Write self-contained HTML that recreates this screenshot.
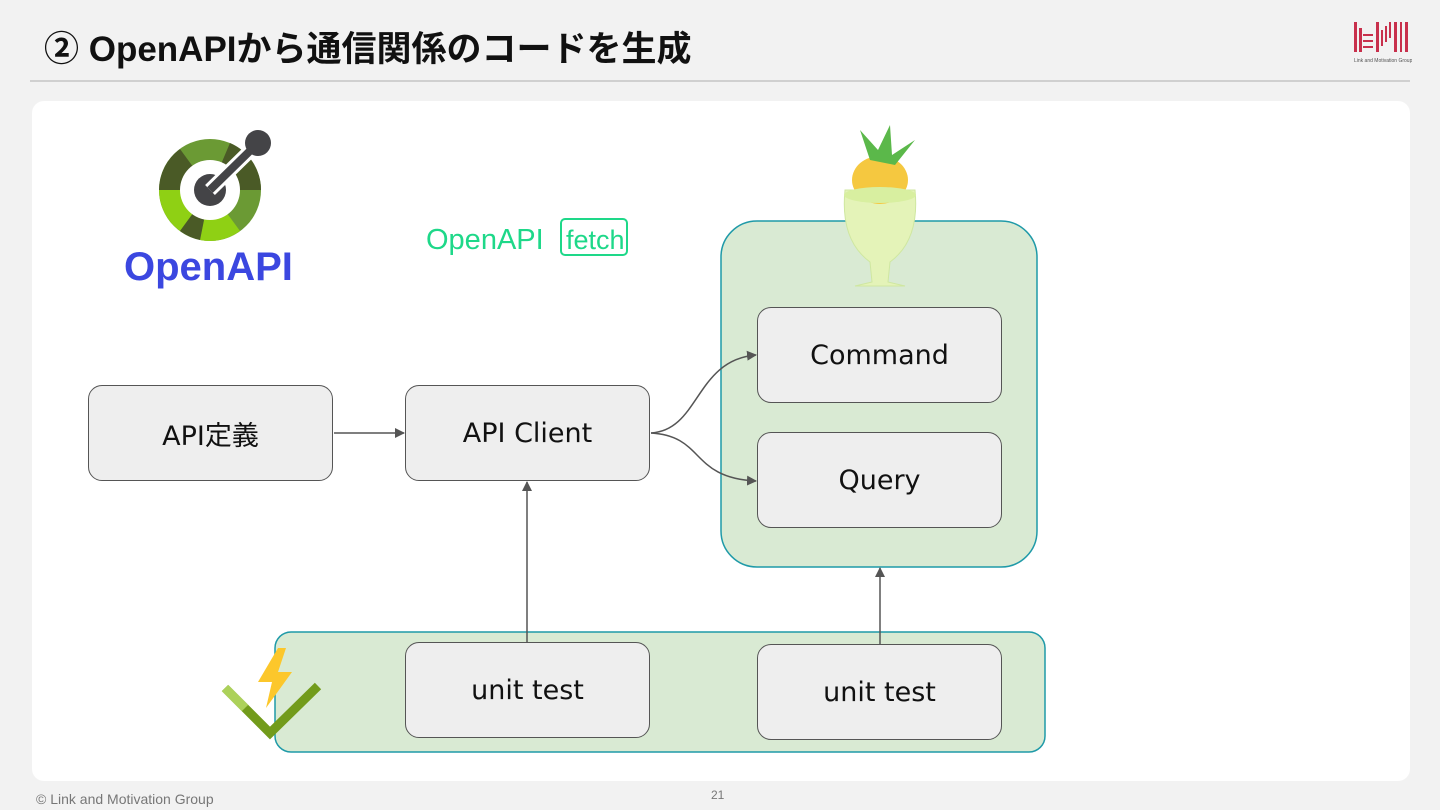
<!DOCTYPE html>
<html><head><meta charset="utf-8"><style>
body{margin:0;width:1440px;height:810px;background:#f2f2f2;position:relative;overflow:hidden;font-family:"Liberation Sans","Noto Sans CJK JP",sans-serif}
.a{position:absolute}
.box{position:absolute;background:#eeeeee;border:1.5px solid #555;border-radius:14px;box-sizing:border-box;display:flex;align-items:center;justify-content:center;font-size:27px;color:#111;font-family:"DejaVu Sans","Noto Sans CJK JP",sans-serif;font-weight:normal}
</style></head><body>
<div class="a" style="left:44px;top:21px;font-size:35px;font-weight:bold;color:#111">② OpenAPIから通信関係のコードを生成</div>
<div class="a" style="left:30px;top:80px;width:1380px;height:2px;background:#d0d0d0"></div>
<svg class="a" style="left:1350px;top:18px" width="62" height="48"><g fill="#c8304c">
<rect x="4" y="4" width="3" height="30"/><rect x="9" y="10" width="3" height="24"/><rect x="13" y="16" width="10" height="2"/><rect x="13" y="22" width="10" height="2"/><rect x="13" y="28" width="10" height="2"/><rect x="26" y="4" width="3" height="30"/><rect x="31" y="12" width="2" height="16"/><rect x="35" y="8" width="2" height="16"/><rect x="39" y="4" width="2" height="16"/><rect x="44" y="4" width="3" height="30"/><rect x="50" y="4" width="2" height="30"/><rect x="55" y="4" width="3" height="30"/></g>
<text x="4" y="44" font-size="5" fill="#555">Link and Motivation Group</text></svg>
<div class="a" style="left:32px;top:101px;width:1378px;height:680px;background:#fff;border-radius:12px"></div>

<svg class="a" style="left:0;top:0" width="1440" height="810">
<g transform="translate(210,190)">
<circle r="51" fill="#6b9a34"/>
<path d="M0 0 L-51 0 A51 51 0 0 1 -30 -41Z" fill="#4a5a26"/>
<path d="M0 0 L-51 0 A51 51 0 0 0 -30 41Z" fill="#8fd014"/>
<path d="M0 0 L-10 50 A51 51 0 0 0 30 41Z" fill="#8fd014"/>
<path d="M0 0 L51 0 A51 51 0 0 0 20 -47Z" fill="#4a5a26"/>
<path d="M0 0 L-30 41 A51 51 0 0 0 -10 50Z" fill="#4a5a26"/>
<circle r="30" fill="#fff"/>
<circle r="16" fill="#444447"/>
<line x1="0" y1="0" x2="48" y2="-47" stroke="#fff" stroke-width="14"/>
<line x1="0" y1="0" x2="48" y2="-47" stroke="#444447" stroke-width="8"/>
<circle cx="48" cy="-47" r="13" fill="#444447"/>
</g>
<text x="124" y="280" font-size="40" font-weight="bold" fill="#3b47e0" font-family="Liberation Sans">OpenAPI</text>
<text x="426" y="249" font-size="29" fill="#1ed889" font-family="Liberation Sans">OpenAPI</text>
<rect x="561" y="219" width="66" height="36" rx="4" fill="none" stroke="#1ed889" stroke-width="2"/>
<text x="566" y="249" font-size="27" fill="#1ed889" font-family="Liberation Sans">fetch</text>
<rect x="721" y="221" width="316" height="346" rx="36" fill="#d9ead3" stroke="#1f9aa8" stroke-width="1.5"/>
<rect x="275" y="632" width="770" height="120" rx="16" fill="#d9ead3" stroke="#1f9aa8" stroke-width="1.5"/>
<path d="M845 190 Q840 240 870 262 L872 282 L855 286 L905 286 L888 282 L890 262 Q920 240 915 190Z" fill="#e4f3b8" stroke="#cfe7a0"/>
<ellipse cx="880" cy="180" rx="28" ry="24" fill="#f5c840"/>
<path d="M870 160 L860 130 L878 150 L890 125 L892 155 L915 140 L895 165Z" fill="#5bb84a"/>
<ellipse cx="880" cy="195" rx="36" ry="8" fill="#d8efa0"/>
<path d="M225 688 L270 733 L318 686" fill="none" stroke="#729b1b" stroke-width="9"/>
<path d="M225 688 L245 708" stroke="#acd15a" stroke-width="9"/>
<path d="M278 648 L258 682 L272 682 L266 708 L292 672 L278 672 L286 648Z" fill="#fcc72b"/>
<defs><marker id="m" markerWidth="10" markerHeight="10" refX="9" refY="5" orient="auto" markerUnits="userSpaceOnUse"><path d="M0 0 L10 5 L0 10Z" fill="#555"/></marker></defs>
<g stroke="#555" stroke-width="1.5" fill="none" marker-end="url(#m)">
<line x1="334" y1="433" x2="404" y2="433"/>
<path d="M651 433 C700 430 695 360 756 355"/>
<path d="M651 433 C705 436 690 478 756 481"/>
<line x1="527" y1="642" x2="527" y2="482"/>
<line x1="880" y1="644" x2="880" y2="568"/>
</g>
</svg>
<div class="box" style="left:88px;top:385px;width:245px;height:96px">API定義</div>
<div class="box" style="left:405px;top:385px;width:245px;height:96px">API Client</div>
<div class="box" style="left:757px;top:307px;width:245px;height:96px">Command</div>
<div class="box" style="left:757px;top:432px;width:245px;height:96px">Query</div>
<div class="box" style="left:405px;top:642px;width:245px;height:96px">unit test</div>
<div class="box" style="left:757px;top:644px;width:245px;height:96px">unit test</div>
<div class="a" style="left:36px;top:791px;font-size:14px;color:#777">© Link and Motivation Group</div>
<div class="a" style="left:711px;top:788px;font-size:12px;color:#777">21</div>
</body></html>
